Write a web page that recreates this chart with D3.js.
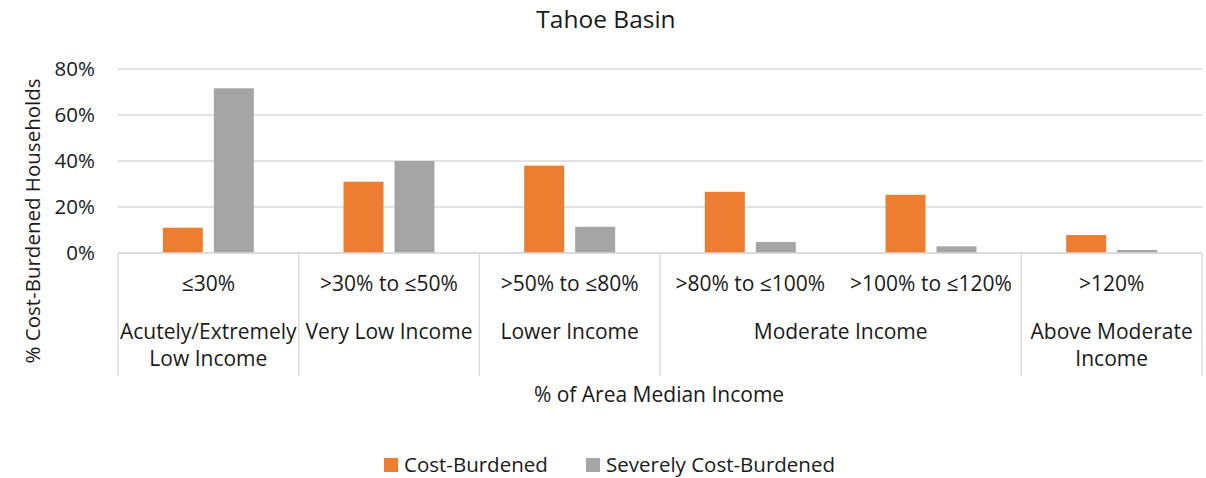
<!DOCTYPE html>
<html>
<head>
<meta charset="utf-8">
<script src="https://cdn.jsdelivr.net/npm/d3@7"></script>
<style>
  body { margin: 0; background: #fff; }
  text { font-family: "Open Sans", Lato, sans-serif; fill: #1a1a1a; }
</style>
</head>
<body>
<div class="chart"></div>
<script>
const width = 1206, height = 478;

// data
const categories = ["≤30%", ">30% to ≤50%", ">50% to ≤80%", ">80% to ≤100%", ">100% to ≤120%", ">120%"];
const groupLabels = ["Acutely/Extremely\nLow Income", "Very Low Income", "Lower Income", "Moderate Income", "Above Moderate\nIncome"];
const groupOf = [0, 1, 2, 3, 3, 4];
const costBurdened = [0.11, 0.31, 0.38, 0.266, 0.253, 0.078];
const severelyCostBurdened = [0.716, 0.40, 0.114, 0.048, 0.029, 0.013];
const seriesNames = ["Cost-Burdened", "Severely Cost-Burdened"];
const yTicks = [0, 0.2, 0.4, 0.6, 0.8];

const color = d3.scaleOrdinal(seriesNames, ["#ED7D31", "#A5A5A5"]);

const plotLeft = 118, plotRight = 1202, plotTop = 69, plotBottom = 253;
const fs = 21;

const svg = d3.select(".chart")
    .append("svg")
    .attr("width", width)
    .attr("height", height);

const x = d3.scaleBand()
    .domain(categories)
    .range([plotLeft, plotRight])
    .padding(0);

const xs = d3.scaleBand()
    .domain(seriesNames)
    .range([0, x.bandwidth()])
    .paddingInner(0.216)
    .paddingOuter(0.88);

const y = d3.scaleLinear()
    .domain([0, 0.8])
    .range([plotBottom, plotTop]);

// gridlines
svg.append("g")
    .selectAll("line")
    .data(yTicks)
    .join("line")
    .attr("x1", plotLeft)
    .attr("x2", plotRight)
    .attr("y1", d => y(d))
    .attr("y2", d => y(d))
    .attr("stroke", "#D9D9D9")
    .attr("stroke-width", 1.3);

// y axis labels
const yAxis = svg.append("g")
    .attr("transform", `translate(${plotLeft - 23},0)`)
    .call(d3.axisLeft(y).tickValues(yTicks).tickFormat(d3.format(".0%")).tickSize(0).tickPadding(0));
yAxis.select(".domain").remove();
yAxis.selectAll("text")
    .attr("font-size", 20.5)
    .style("font-family", "'Open Sans', sans-serif")
    .attr("fill", "#1a1a1a");

// bars
const rows = categories.map((c, i) => ({
    cat: c,
    values: [
        { key: seriesNames[0], value: costBurdened[i] },
        { key: seriesNames[1], value: severelyCostBurdened[i] }
    ]
}));

svg.append("g")
    .selectAll("g")
    .data(rows)
    .join("g")
    .attr("transform", d => `translate(${x(d.cat)},0)`)
    .selectAll("rect")
    .data(d => d.values)
    .join("rect")
    .attr("x", d => xs(d.key))
    .attr("width", xs.bandwidth())
    .attr("y", d => y(d.value))
    .attr("height", d => y(0) - y(d.value))
    .attr("fill", d => color(d.key));

// category axis (two levels)
const axisBottom = 376;
svg.append("line")
    .attr("x1", plotLeft).attr("x2", plotRight)
    .attr("y1", plotBottom).attr("y2", plotBottom)
    .attr("stroke", "#D9D9D9").attr("stroke-width", 1.3);

// separators at group boundaries
const groups = groupLabels.map((g, gi) => {
    const idx = categories.filter((c, i) => groupOf[i] === gi);
    return { label: g, x0: x(idx[0]), x1: x(idx[idx.length - 1]) + x.bandwidth() };
});
const seps = [plotLeft].concat(groups.map(g => g.x1));
svg.append("g")
    .selectAll("line")
    .data(seps)
    .join("line")
    .attr("x1", d => d).attr("x2", d => d)
    .attr("y1", plotBottom).attr("y2", axisBottom)
    .attr("stroke", "#D9D9D9").attr("stroke-width", 1.3);

svg.append("g")
    .selectAll("text")
    .data(categories)
    .join("text")
    .attr("x", d => x(d) + x.bandwidth() / 2)
    .attr("y", 284)
    .attr("dy", "0.35em")
    .attr("text-anchor", "middle")
    .attr("font-size", fs)
    .text(d => d);

svg.append("g")
    .selectAll("text")
    .data(groups)
    .join("text")
    .attr("x", d => (d.x0 + d.x1) / 2)
    .attr("y", 332)
    .attr("text-anchor", "middle")
    .attr("font-size", fs)
    .each(function (d) {
        d3.select(this).selectAll("tspan")
            .data(d.label.split("\n"))
            .join("tspan")
            .attr("x", (d.x0 + d.x1) / 2)
            .attr("dy", (t, i) => i === 0 ? "0.35em" : "27px")
            .text(t => t);
    });

// titles
svg.append("text")
    .attr("x", 606).attr("y", 19).attr("dy", "0.35em")
    .attr("text-anchor", "middle")
    .attr("font-size", 24.5)
    .text("Tahoe Basin");

svg.append("text")
    .attr("x", 659).attr("y", 395).attr("dy", "0.35em")
    .attr("text-anchor", "middle")
    .attr("font-size", fs)
    .text("% of Area Median Income");

svg.append("text")
    .attr("transform", "translate(33,221) rotate(-90)")
    .attr("dy", "0.35em")
    .attr("text-anchor", "middle")
    .attr("font-size", 20.5)
    .text("% Cost-Burdened Households");

// legend
const legendX = [384, 586];
const legend = svg.append("g")
    .selectAll("g")
    .data(seriesNames)
    .join("g")
    .attr("transform", (d, i) => `translate(${legendX[i]},465)`);
legend.append("rect")
    .attr("x", 0).attr("y", -7)
    .attr("width", 14).attr("height", 14)
    .attr("fill", d => color(d));
legend.append("text")
    .attr("x", 20).attr("dy", "0.35em")
    .attr("font-size", 20.5)
    .text(d => d);
</script>
</body>
</html>
